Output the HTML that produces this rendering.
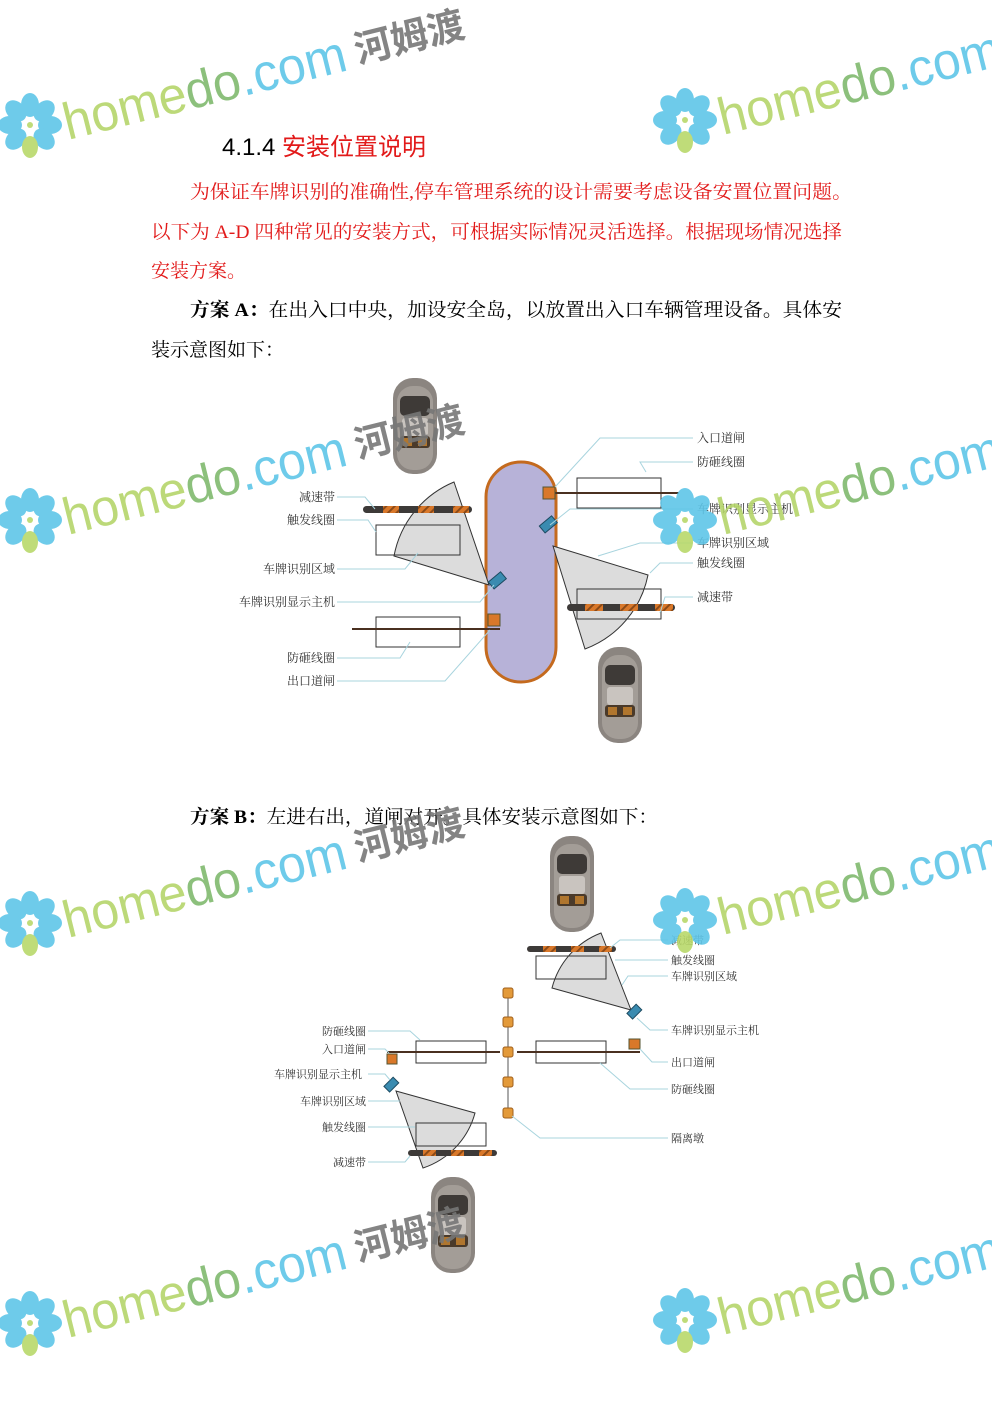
<!DOCTYPE html>
<html><head><meta charset="utf-8"><style>
html,body{margin:0;padding:0;background:#fff;}
svg{display:block;}
.s{font-family:"Liberation Serif","Noto Serif CJK SC",serif;}
.l{font-family:"Liberation Serif","Noto Serif CJK SC",serif;font-size:12px;fill:#333;}
.ls{font-family:"Liberation Serif","Noto Serif CJK SC",serif;font-size:11px;fill:#333;}
.ld{stroke:#a8d4de;stroke-width:1;fill:none;}
.wm{font-family:"Liberation Sans",sans-serif;font-size:52px;}
</style></head><body>
<svg width="992" height="1403" viewBox="0 0 992 1403" xmlns="http://www.w3.org/2000/svg">
<defs>
<pattern id="hat" width="6" height="6" patternUnits="userSpaceOnUse" patternTransform="rotate(45)">
<rect width="6" height="6" fill="#d9782a"/><rect width="2" height="6" fill="#8a4a18"/></pattern>
<g id="car">
<rect x="-22" y="-48" width="44" height="96" rx="20" fill="#8b8580"/>
<rect x="-18" y="-40" width="36" height="84" rx="16" fill="#a39d97"/>
<rect x="-15" y="-30" width="30" height="20" rx="5" fill="#3e3a37"/>
<rect x="-13" y="-8" width="26" height="18" rx="3" fill="#c9c4bf"/>
<rect x="-15" y="10" width="30" height="12" rx="3" fill="#4a3a2a"/>
<rect x="-12" y="12" width="9" height="8" fill="#b0762e"/><rect x="3" y="12" width="9" height="8" fill="#b0762e"/>
</g>
<g id="flower">
<g fill="#5ec6e8">
<ellipse cx="0" cy="-20" rx="9" ry="12"/><ellipse cx="0" cy="-20" rx="9" ry="12" transform="rotate(45)"/>
<ellipse cx="0" cy="-20" rx="9" ry="12" transform="rotate(90)"/><ellipse cx="0" cy="-20" rx="9" ry="12" transform="rotate(135)"/>
<ellipse cx="0" cy="-20" rx="9" ry="12" transform="rotate(-45)"/><ellipse cx="0" cy="-20" rx="9" ry="12" transform="rotate(-90)"/>
<ellipse cx="0" cy="-20" rx="9" ry="12" transform="rotate(-135)"/></g>
<ellipse cx="0" cy="22" rx="8" ry="11" fill="#b8d86a"/>
<circle cx="0" cy="0" r="3" fill="#b8d86a"/>
</g>
<g id="wm">
<use href="#flower" x="30" y="-5"/>
<g transform="rotate(-14 68 10)">
<text class="wm" x="68" y="10" textLength="290" lengthAdjust="spacingAndGlyphs"><tspan fill="#b5d56a">home</tspan><tspan fill="#7fb96e">do</tspan><tspan fill="#5ec6e8">.com</tspan></text>
<text x="368" y="6" fill="#777" font-family="'Noto Sans CJK SC',sans-serif" font-weight="bold" font-size="38" textLength="112" lengthAdjust="spacingAndGlyphs">河姆渡</text>
</g>
</g>
</defs>

<!-- heading & text -->
<text x="222" y="155" font-family="Liberation Sans,'Noto Sans CJK SC',sans-serif" font-size="24"><tspan fill="#000">4.1.4 </tspan><tspan fill="#e21a1a" font-family="'Noto Sans CJK SC',sans-serif">安装位置说明</tspan></text>
<g class="s" font-size="19">
<text x="190" y="198" fill="#e21a1a" textLength="662" lengthAdjust="spacingAndGlyphs">为保证车牌识别的准确性,停车管理系统的设计需要考虑设备安置位置问题。</text>
<text x="151" y="238" fill="#e21a1a" textLength="691" lengthAdjust="spacingAndGlyphs">以下为 A-D 四种常见的安装方式，可根据实际情况灵活选择。根据现场情况选择</text>
<text x="151" y="277" fill="#e21a1a">安装方案。</text>
<text x="190" y="316" fill="#000" textLength="652" lengthAdjust="spacingAndGlyphs"><tspan font-weight="bold">方案 A：</tspan>在出入口中央，加设安全岛，以放置出入口车辆管理设备。具体安</text>
<text x="151" y="356" fill="#000">装示意图如下：</text>
<text x="190" y="823" fill="#000" textLength="468" lengthAdjust="spacingAndGlyphs"><tspan font-weight="bold">方案 B：</tspan>左进右出，道闸对开。具体安装示意图如下：</text>
</g>

<!-- Diagram A -->
<use href="#car" x="415" y="426"/>
<use href="#car" x="620" y="695"/>
<rect x="486" y="462" width="70" height="220" rx="35" fill="#b7b2d8" stroke="#c46a1e" stroke-width="3"/>
<path d="M553,546 L648,575 A100,100 0 0 1 585,649 Z" fill="#dcdcdc" stroke="#333" stroke-width="1"/>
<rect x="577" y="478" width="84" height="30" fill="none" stroke="#333"/>
<rect x="577" y="589" width="84" height="30" fill="none" stroke="#333"/>
<line x1="543" y1="493" x2="679" y2="493" stroke="#4a3020" stroke-width="2"/>
<rect x="543" y="487" width="12" height="12" fill="#d9782a" stroke="#553"/>
<rect x="567" y="604" width="108" height="7" rx="3.5" fill="#3d3a38"/>
<rect x="585" y="604" width="18" height="7" fill="url(#hat)"/><rect x="620" y="604" width="18" height="7" fill="url(#hat)"/><rect x="655" y="604" width="18" height="7" fill="url(#hat)"/>
<rect x="540" y="520" width="16" height="9" fill="#3a8bb0" stroke="#1d4a60" transform="rotate(-40 548 524)"/>
<path d="M489,585 L394,556 A100,100 0 0 1 454,482 Z" fill="#dcdcdc" stroke="#333" stroke-width="1"/>
<rect x="376" y="525" width="84" height="30" fill="none" stroke="#333"/>
<rect x="363" y="506" width="109" height="7" rx="3.5" fill="#3d3a38"/>
<rect x="383" y="506" width="16" height="7" fill="url(#hat)"/><rect x="418" y="506" width="16" height="7" fill="url(#hat)"/><rect x="453" y="506" width="16" height="7" fill="url(#hat)"/>
<rect x="489" y="576" width="16" height="9" fill="#3a8bb0" stroke="#1d4a60" transform="rotate(-40 497 580)"/>
<rect x="376" y="617" width="84" height="30" fill="none" stroke="#333"/>
<line x1="352" y1="629" x2="500" y2="629" stroke="#4a3020" stroke-width="2"/>
<rect x="488" y="614" width="12" height="12" fill="#d9782a" stroke="#553"/>
<g class="ld">
<polyline points="693,438 600,438 555,487"/><polyline points="693,462 640,462 646,472"/>
<polyline points="693,509 570,509 550,525"/><polyline points="693,543 640,543 598,556"/>
<polyline points="693,563 660,563 650,573"/><polyline points="693,597 665,597 660,613"/>
<polyline points="337,497 365,497 375,509"/><polyline points="337,520 368,520 376,532"/>
<polyline points="337,569 405,569 418,553"/><polyline points="337,602 480,602 494,585"/>
<polyline points="337,658 400,658 410,642"/><polyline points="337,681 445,681 490,630"/>
</g>
<g class="l">
<text x="697" y="442">入口道闸</text><text x="697" y="466">防砸线圈</text><text x="697" y="513">车牌识别显示主机</text>
<text x="697" y="547">车牌识别区域</text><text x="697" y="567">触发线圈</text><text x="697" y="601">减速带</text>
<g text-anchor="end"><text x="335" y="501">减速带</text><text x="335" y="524">触发线圈</text><text x="335" y="573">车牌识别区域</text>
<text x="335" y="606">车牌识别显示主机</text><text x="335" y="662">防砸线圈</text><text x="335" y="685">出口道闸</text></g>
</g>

<!-- Diagram B -->
<use href="#car" x="572" y="884"/>
<use href="#car" x="453" y="1225"/>
<path d="M631,1010 L552,988 A80,80 0 0 1 601,933 Z" fill="#dcdcdc" stroke="#333"/>
<rect x="536" y="956" width="70" height="23" fill="none" stroke="#333"/>
<rect x="527" y="946" width="89" height="6" rx="3" fill="#3d3a38"/>
<rect x="543" y="946" width="13" height="6" fill="url(#hat)"/><rect x="571" y="946" width="13" height="6" fill="url(#hat)"/><rect x="599" y="946" width="13" height="6" fill="url(#hat)"/>
<rect x="628" y="1008" width="13" height="8" fill="#3a8bb0" stroke="#1d4a60" transform="rotate(-45 634 1012)"/>
<path d="M396,1091 L475,1113 A80,80 0 0 1 423,1168 Z" fill="#dcdcdc" stroke="#333"/>
<rect x="416" y="1123" width="70" height="23" fill="none" stroke="#333"/>
<rect x="408" y="1150" width="89" height="6" rx="3" fill="#3d3a38"/>
<rect x="423" y="1150" width="13" height="6" fill="url(#hat)"/><rect x="451" y="1150" width="13" height="6" fill="url(#hat)"/><rect x="479" y="1150" width="13" height="6" fill="url(#hat)"/>
<rect x="385" y="1081" width="13" height="8" fill="#3a8bb0" stroke="#1d4a60" transform="rotate(-45 391 1085)"/>
<line x1="508" y1="993" x2="508" y2="1113" stroke="#555"/>
<rect x="416" y="1041" width="70" height="22" fill="none" stroke="#333"/>
<rect x="536" y="1041" width="70" height="22" fill="none" stroke="#333"/>
<line x1="387" y1="1052" x2="500" y2="1052" stroke="#4a3020" stroke-width="2"/>
<line x1="517" y1="1052" x2="640" y2="1052" stroke="#4a3020" stroke-width="2"/>
<rect x="387" y="1054" width="10" height="10" fill="#d9782a" stroke="#553"/>
<rect x="629" y="1039" width="11" height="10" fill="#d9782a" stroke="#553"/>
<g fill="#e39a3a" stroke="#a0601c">
<rect x="503" y="988" width="10" height="10" rx="2"/><rect x="503" y="1017" width="10" height="10" rx="2"/>
<rect x="503" y="1047" width="10" height="10" rx="2"/><rect x="503" y="1077" width="10" height="10" rx="2"/>
<rect x="503" y="1108" width="10" height="10" rx="2"/></g>
<g class="ld">
<polyline points="668,940 620,940 610,948"/><polyline points="668,960 615,960"/>
<polyline points="668,976 628,976 622,985"/><polyline points="668,1030 650,1030 637,1018"/>
<polyline points="668,1062 652,1062 640,1049"/><polyline points="668,1089 630,1089 600,1063"/>
<polyline points="668,1138 540,1138 512,1116"/>
<polyline points="368,1031 410,1031 420,1040"/><polyline points="368,1049 385,1049 389,1053"/>
<polyline points="368,1074 385,1074 390,1080"/><polyline points="368,1101 400,1101"/>
<polyline points="368,1127 415,1127"/><polyline points="368,1162 405,1162 410,1156"/>
</g>
<g class="ls">
<text x="671" y="944">减速带</text><text x="671" y="964">触发线圈</text><text x="671" y="980">车牌识别区域</text>
<text x="671" y="1034">车牌识别显示主机</text><text x="671" y="1066">出口道闸</text><text x="671" y="1093">防砸线圈</text><text x="671" y="1142">隔离墩</text>
<g text-anchor="end"><text x="366" y="1035">防砸线圈</text><text x="366" y="1053">入口道闸</text><text x="362" y="1078">车牌识别显示主机</text>
<text x="366" y="1105">车牌识别区域</text><text x="366" y="1131">触发线圈</text><text x="366" y="1166">减速带</text></g>
</g>

<!-- watermarks -->
<g opacity="0.9">
<use href="#wm" x="0" y="130"/><use href="#wm" x="655" y="125"/>
<use href="#wm" x="0" y="525"/><use href="#wm" x="655" y="525"/>
<use href="#wm" x="0" y="928"/><use href="#wm" x="655" y="925"/>
<use href="#wm" x="0" y="1328"/><use href="#wm" x="655" y="1325"/>
</g>
</svg>
</body></html>
